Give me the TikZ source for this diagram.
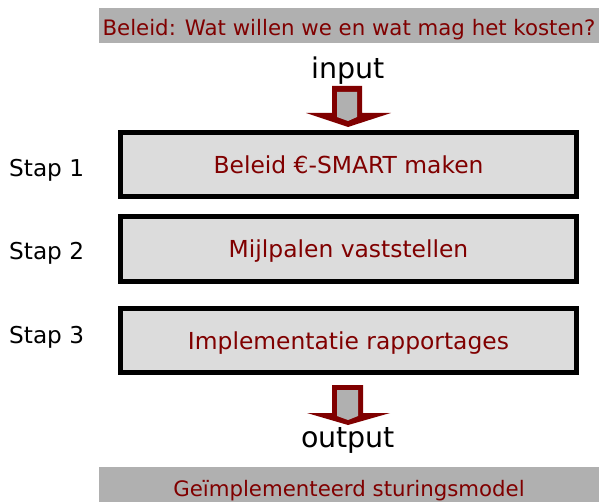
\documentclass[tikz,border=0pt]{standalone}
\usepackage{fontspec}
\setmainfont{DejaVu Sans}
\definecolor{dred}{RGB}{128,0,0}
\definecolor{band}{RGB}{176,176,176}
\definecolor{boxfill}{RGB}{220,220,220}
\begin{document}
\begin{tikzpicture}[x=1pt,y=-1pt,
  bandtxt/.style={text=dred,font=\fontsize{21.3}{24}\selectfont,anchor=base,inner sep=0pt},
  stepbox/.style={draw=black,line width=5pt,fill=boxfill,minimum width=456pt,inner sep=0pt},
  boxtxt/.style={text=dred,font=\fontsize{23.4}{26}\selectfont,anchor=base,inner sep=0pt},
  steplbl/.style={font=\fontsize{23.2}{26}\selectfont,text=black,anchor=base west,inner sep=0pt},
  iolbl/.style={font=\fontsize{28.5}{32}\selectfont,text=black,anchor=base,inner sep=0pt}]
\useasboundingbox (0,0) rectangle (599,502);
\fill[band] (99,8) rectangle (599,43);
\node[bandtxt] (beleid) at (349,36) {Beleid: Wat willen we en wat mag het kosten?};
\node[iolbl] (input) at (348,79) {input};
% input arrow
\fill[dred] (332,86) -- (362,86) -- (362,113) -- (391,113) -- (348,127) -- (306,113) -- (332,113) -- cycle;
\fill[band] (337,92) -- (357,92) -- (357,117) -- (348,121) -- (337,117) -- cycle;
\node[stepbox,minimum height=64pt] (s1) at (348.5,164.5) {};
\node[stepbox,minimum height=65pt] (s2) at (348.5,249) {};
\node[stepbox,minimum height=64pt] (s3) at (348.5,340.5) {};
\node[boxtxt] (t1) at ([yshift=-9pt]s1.center) {Beleid €-SMART maken};
\node[boxtxt] (t2) at ([yshift=-9pt]s2.center) {Mijlpalen vaststellen};
\node[boxtxt] (t3) at ([yshift=-9pt]s3.center) {Implementatie rapportages};
\node[steplbl] (l1) at (9,177) {Stap 1};
\node[steplbl] (l2) at (9,260) {Stap 2};
\node[steplbl] (l3) at (9,343) {Stap 3};
% output arrow
\fill[dred] (332,385) -- (363,385) -- (363,413) -- (390,413) -- (348,425) -- (307,413) -- (332,413) -- cycle;
\fill[band] (337,390) -- (358,390) -- (358,416) -- (348,420) -- (337,416) -- cycle;
\node[iolbl] (output) at (348,447) {output};
\fill[band] (99,467) rectangle (599,502);
\node[bandtxt] (impl) at (349,496) {Geïmplementeerd sturingsmodel};
\end{tikzpicture}
\end{document}
